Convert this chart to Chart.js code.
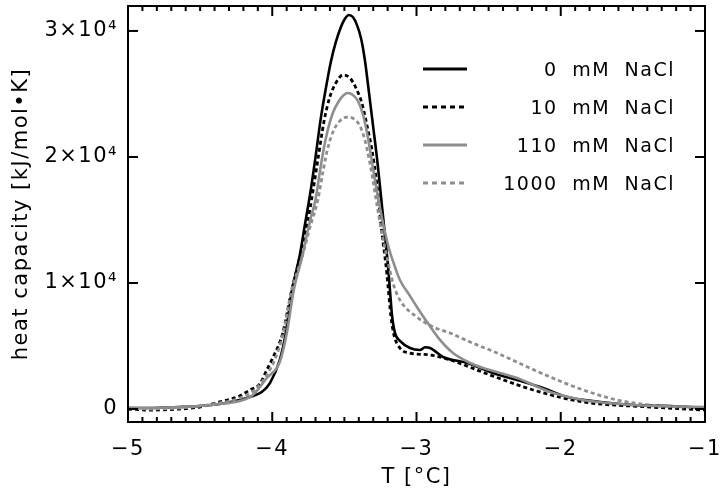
<!DOCTYPE html>
<html>
<head>
<meta charset="utf-8">
<script src="https://cdn.jsdelivr.net/npm/chart.js@4.4.1/dist/chart.umd.min.js"></script>
<style>html,body{margin:0;padding:0;background:#fff}canvas{display:block}</style>
</head>
<body>
<canvas id="c" width="720" height="496"></canvas>
<script>
// series names
const labels = ['0 mM NaCl', '10 mM NaCl', '110 mM NaCl', '1000 mM NaCl'];

// T [°C] and heat capacity
const t0  = [-5.000,-4.851,-4.642,-4.503,-4.365,-4.226,-4.135,-4.073,-4.016,-3.948,-3.906,-3.865,-3.809,-3.774,-3.733,-3.698,-3.663,-3.628,-3.594,-3.559,-3.524,-3.497,-3.469,-3.441,-3.413,-3.385,-3.358,-3.330,-3.302,-3.274,-3.247,-3.219,-3.198,-3.184,-3.170,-3.149,-3.115,-3.045,-2.976,-2.941,-2.906,-2.816,-2.649,-2.469,-2.302,-2.122,-1.955,-1.726,-1.497,-1.240,-1.000];
const cp0 = [80,80,160,240,400,714,1030,1350,2060,3890,6030,9290,12220,14600,17380,20160,23100,25480,27540,29130,30320,30950,31270,31110,30480,29440,27700,25160,22540,19920,16980,13810,11430,9440,7460,6030,5400,4840,4680,4900,4840,4130,3650,2860,2300,1670,950,560,320,240,80];

const t1  = [-5.000,-4.851,-4.642,-4.503,-4.365,-4.226,-4.156,-4.087,-4.038,-3.997,-3.927,-3.865,-3.809,-3.740,-3.684,-3.642,-3.601,-3.559,-3.510,-3.462,-3.420,-3.379,-3.344,-3.309,-3.274,-3.240,-3.212,-3.198,-3.177,-3.156,-3.115,-3.045,-2.906,-2.767,-2.490,-2.191,-1.844,-1.378,-1.000];
const cp1 = [0,-80,0,160,560,1030,1510,1980,3100,4050,6030,9440,12060,15790,19760,22780,24760,25870,26510,26270,25480,24290,22540,20560,17780,13970,11430,9840,7300,5870,4840,4440,4290,3890,2700,1510,560,160,-80];

const t2  = [-5.000,-4.851,-4.642,-4.503,-4.365,-4.226,-4.135,-4.038,-3.948,-3.899,-3.851,-3.795,-3.740,-3.698,-3.670,-3.642,-3.615,-3.580,-3.538,-3.504,-3.476,-3.441,-3.406,-3.372,-3.344,-3.316,-3.288,-3.253,-3.219,-3.184,-3.149,-3.115,-3.045,-2.997,-2.927,-2.837,-2.747,-2.628,-2.538,-2.302,-2.073,-1.844,-1.497,-1.000];
const cp2 = [80,80,160,240,400,630,1110,2460,3730,6030,9440,11980,14840,16750,18810,20710,22140,23490,24440,24920,25080,24920,24440,23410,21980,20160,18170,15950,14050,12460,11270,10240,8970,8100,6900,5480,4440,3650,3250,2460,1350,714,320,160];

const t3  = [-5.000,-4.851,-4.642,-4.503,-4.365,-4.226,-4.122,-4.038,-3.983,-3.927,-3.865,-3.795,-3.740,-3.684,-3.649,-3.615,-3.573,-3.524,-3.476,-3.434,-3.392,-3.358,-3.330,-3.302,-3.274,-3.240,-3.205,-3.163,-3.115,-2.997,-2.885,-2.767,-2.628,-2.441,-2.260,-2.073,-1.844,-1.608,-1.378,-1.000];
const cp3 = [80,0,80,240,480,870,1510,2700,3890,5870,9440,11980,14370,16590,18810,20710,22140,22940,23170,23020,22460,21350,19920,18170,16190,13970,12060,10000,8650,7300,6510,6030,5320,4440,3490,2540,1510,714,320,80];

// axes
const xRange = [-5, -1];
const yRange = [-1030, 31980];
const xTicks = [-5, -4, -3, -2, -1];
const yTicks = [0, 10000, 20000, 30000];

const GRAY = '#8e8e8e';
const FONT = 'DejaVu Sans';

function pts(t, v){ return t.map((x,i)=>({x, y:v[i]})); }

const series = [
  {t:t0, v:cp0, color:'#000', width:2.6, dash:[]},
  {t:t1, v:cp1, color:'#000', width:2.8, dash:[4,3]},
  {t:t2, v:cp2, color:GRAY,  width:2.6, dash:[]},
  {t:t3, v:cp3, color:GRAY,  width:2.8, dash:[4,3]}
];

const datasets = series.map((s,i)=>({
  label: labels[i],
  data: pts(s.t, s.v),
  borderColor: s.color,
  borderWidth: s.width,
  borderDash: s.dash,
  pointRadius: 0,
  fill: false,
  cubicInterpolationMode: 'monotone',
  order: 4 - i
}));

// frame, inward ticks and the legend box
const framePlugin = {
  id: 'frame',
  beforeDraw(chart){ chart.ctx.letterSpacing = '1.5px'; },
  afterDatasetsDraw(chart){
    const {ctx, chartArea:a, scales:{x, y}} = chart;
    ctx.save();
    ctx.strokeStyle = '#000';
    ctx.lineWidth = 2;
    ctx.setLineDash([]);
    const line = (x1,y1,x2,y2)=>{ ctx.beginPath(); ctx.moveTo(x1,y1); ctx.lineTo(x2,y2); ctx.stroke(); };
    for (let i = 0; i <= 40; i++) {
      const px = x.getPixelForValue(xRange[0] + i * 0.1);
      const len = i % 10 === 0 ? 10 : 5;
      line(px, a.bottom, px, a.bottom - len);
      line(px, a.top, px, a.top + len);
    }
    y.ticks.forEach(t=>{
      const py = y.getPixelForValue(t.value);
      line(a.left, py, a.left + 10, py);
      line(a.right, py, a.right - 10, py);
    });
    ctx.strokeRect(a.left, a.top, a.right - a.left, a.bottom - a.top);

    // legend
    ctx.font = '19px "' + FONT + '"';
    ctx.letterSpacing = '1.5px';
    ctx.wordSpacing = '7px';
    ctx.fillStyle = '#000';
    ctx.textAlign = 'right';
    ctx.textBaseline = 'middle';
    chart.data.datasets.forEach((d,i)=>{
      const ly = 69 + i * 38;
      ctx.strokeStyle = d.borderColor;
      ctx.lineWidth = 3;
      ctx.setLineDash(d.borderDash.length ? [5,4] : []);
      line(423, ly, 467, ly);
      ctx.fillText(d.label, 675, ly + 2);
    });
    ctx.restore();
  }
};

new Chart(document.getElementById('c'), {
  type: 'line',
  data: {datasets},
  options: {
    responsive: false,
    animation: false,
    events: [],
    layout: {padding: {top: 6, right: 15, left: 0, bottom: 0}},
    plugins: {legend: {display: false}, tooltip: {enabled: false}},
    scales: {
      x: {
        type: 'linear', min: xRange[0], max: xRange[1],
        grid: {display: false, drawTicks: false}, border: {display: false},
        afterBuildTicks(s){ s.ticks = xTicks.map(v=>({value: v})); },
        afterFit(s){ s.height = 74; s.paddingLeft = 0; s.paddingRight = 0; },
        ticks: {
          padding: 15, color: '#000', maxRotation: 0,
          font: {family: FONT, size: 21},
          callback: v => String(v).replace('-', '\u2212')
        },
        title: {display: true, text: 'T [°C]', color: '#000', font: {family: FONT, size: 21}, padding: {top: 0, bottom: 6}}
      },
      y: {
        type: 'linear', min: yRange[0], max: yRange[1],
        grid: {display: false, drawTicks: false}, border: {display: false},
        afterBuildTicks(s){ s.ticks = yTicks.map(v=>({value: v})); },
        afterFit(s){ s.width = 128; s.paddingTop = 0; s.paddingBottom = 0; },
        ticks: {
          padding: 10, color: '#000',
          font: {family: FONT, size: 21},
          callback: v => v === 0 ? '0' : (v / 10000) + '×10⁴'
        },
        title: {display: true, text: 'heat capacity [kJ/mol•K]', color: '#000', font: {family: FONT, size: 21}, padding: {top: 9, bottom: 0}}
      }
    }
  },
  plugins: [framePlugin]
});
</script>
</body>
</html>
